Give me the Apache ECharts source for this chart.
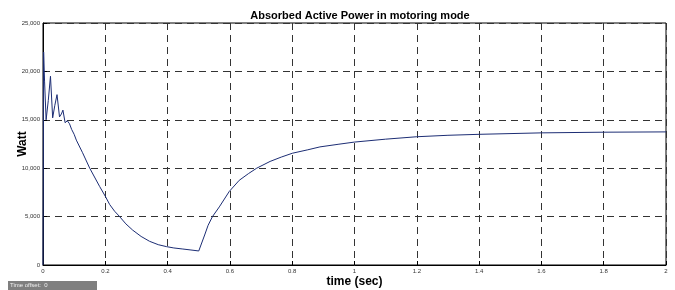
<!DOCTYPE html>
<html>
<head>
<meta charset="utf-8">
<script src="https://cdn.jsdelivr.net/npm/echarts@6/dist/echarts.min.js"></script>
<style>
  html, body { margin: 0; padding: 0; background: #fff; }
  #chart { width: 675px; height: 290px; }
</style>
</head>
<body>
<div id="chart"></div>
<script>
// values
var timeSec = [0, 0.002, 0.005, 0.01, 0.017, 0.024, 0.031, 0.038, 0.045, 0.053,
  0.059, 0.064, 0.071, 0.078, 0.085, 0.092, 0.1, 0.107, 0.127, 0.15,
  0.182, 0.2, 0.214, 0.23, 0.246, 0.266, 0.288, 0.315, 0.342, 0.37,
  0.396, 0.42, 0.449, 0.475, 0.5, 0.519, 0.53, 0.544, 0.566, 0.598,
  0.63, 0.66, 0.686, 0.729, 0.765, 0.801, 0.85, 0.889, 0.95, 1.0,
  1.1, 1.2, 1.3, 1.4, 1.6, 1.8, 2.0];
var powerW = [0, 22000, 19000, 15000, 17000, 19500, 15200, 16500, 17600, 15300,
  15600, 16000, 14700, 14900, 14600, 14000, 13500, 12900, 11600, 10000,
  8100, 7100, 6250, 5550, 5000, 4250, 3600, 2950, 2450, 2100,
  1900, 1760, 1650, 1550, 1450, 3100, 4100, 5000, 6000, 7600,
  8750, 9450, 10000, 10700, 11150, 11550, 11900, 12200, 12480, 12700,
  13000, 13250, 13400, 13500, 13650, 13720, 13750];
var xTicks = [0, 0.2, 0.4, 0.6, 0.8, 1, 1.2, 1.4, 1.6, 1.8, 2];
var yTicks = [0, 5000, 10000, 15000, 20000, 25000];

var chart = echarts.init(document.getElementById('chart'));

var points = timeSec.map(function (t, i) { return [t, powerW[i]]; });

var gridLine = { show: true, lineStyle: { color: '#333', type: [7, 5], width: 1 } };
var font = 'Liberation Sans, Arial, sans-serif';

chart.setOption({
  animation: false,
  backgroundColor: '#fff',
  title: {
    text: 'Absorbed Active Power in motoring mode',
    left: 355, top: 5, textAlign: 'center',
    textStyle: { fontFamily: font, fontSize: 11, fontWeight: 'bold', color: '#000' }
  },
  grid: {
    left: 43, top: 23, right: 9, bottom: 25,
    outerBoundsMode: 'none',
    show: true, borderColor: '#000', borderWidth: 1
  },
  xAxis: {
    type: 'value', min: xTicks[0], max: xTicks[xTicks.length - 1], interval: 0.2,
    name: 'time (sec)', nameLocation: 'middle', nameGap: 11, nameMoveOverlap: false,
    nameTextStyle: { fontFamily: font, fontSize: 12, fontWeight: 'bold', color: '#000' },
    axisLine: { lineStyle: { color: '#000', width: 1 } },
    axisTick: { inside: true, length: 4, lineStyle: { color: '#000' } },
    axisLabel: { fontFamily: font, fontSize: 6, color: '#333', margin: 3 },
    splitLine: gridLine
  },
  yAxis: {
    type: 'value', min: yTicks[0], max: yTicks[yTicks.length - 1], interval: 5000,
    name: 'Watt', nameLocation: 'middle', nameGap: 14, nameRotate: 90, nameMoveOverlap: false,
    nameTextStyle: { fontFamily: font, fontSize: 12, fontWeight: 'bold', color: '#000' },
    axisLine: { lineStyle: { color: '#000', width: 1 } },
    axisTick: { inside: true, length: 4, lineStyle: { color: '#000' } },
    axisLabel: {
      fontFamily: font, fontSize: 6, color: '#333', margin: 3,
      formatter: function (v) { return v.toLocaleString('en-US'); }
    },
    splitLine: gridLine
  },
  series: [{
    type: 'line',
    data: points,
    showSymbol: false,
    lineStyle: { color: '#1c2d74', width: 1 }
  }],
  graphic: [
    { type: 'rect', left: 8, top: 281, shape: { width: 89, height: 9 }, style: { fill: '#7f7f7f' } },
    { type: 'text', left: 10, top: 282, style: { text: 'Time offset:  0', fill: '#f0f0f0', font: '6px Liberation Sans, Arial, sans-serif' } }
  ]
});
</script>
</body>
</html>
